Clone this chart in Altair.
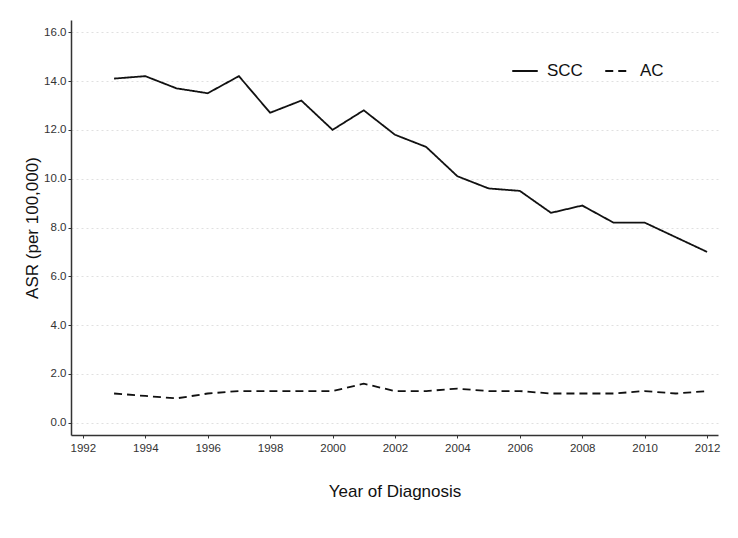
import altair as alt
import pandas as pd

years = list(range(1993, 2013))
scc = [14.1, 14.2, 13.7, 13.5, 14.2, 12.7, 13.2, 12.0, 12.8, 11.8,
       11.3, 10.1, 9.6, 9.5, 8.6, 8.9, 8.2, 8.2, 7.6, 7.0]
ac = [1.2, 1.1, 1.0, 1.2, 1.3, 1.3, 1.3, 1.3, 1.6, 1.3,
      1.3, 1.4, 1.3, 1.3, 1.2, 1.2, 1.2, 1.3, 1.2, 1.3]
series = ["SCC", "AC"]
x_ticks = list(range(1992, 2013, 2))
y_ticks = [0, 2, 4, 6, 8, 10, 12, 14, 16]

df = pd.DataFrame(
    {"year": years * 2,
     "asr": scc + ac,
     "type": ["SCC"] * len(years) + ["AC"] * len(years)}
)

font = "Liberation Sans"

chart = alt.Chart(df).mark_line(color="#111111", strokeWidth=1.8).encode(
    x=alt.X("year:Q",
            scale=alt.Scale(domain=[1991.62, 2012.35], nice=False, zero=False),
            axis=alt.Axis(values=x_ticks, format="d", title="Year of Diagnosis",
                          grid=False, titlePadding=30, labelPadding=4)),
    y=alt.Y("asr:Q",
            scale=alt.Scale(domain=[-0.5, 16.5], nice=False),
            axis=alt.Axis(values=y_ticks, format=".1f", title="ASR (per 100,000)",
                          grid=True, titlePadding=2)),
    strokeDash=alt.StrokeDash("type:N",
                              scale=alt.Scale(domain=series, range=[[1, 0], [8, 5]]),
                              legend=alt.Legend(title=None, orient="none",
                                                legendX=440, legendY=37,
                                                direction="horizontal",
                                                symbolType="stroke",
                                                symbolSize=650,
                                                symbolStrokeWidth=1.8,
                                                symbolStrokeColor="#111111",
                                                labelFontSize=17,
                                                labelFont=font,
                                                labelColor="#111111",
                                                columnPadding=18,
                                                labelOffset=8)),
).properties(
    width=647, height=415,
    autosize=alt.AutoSizeParams(type="none"),
    padding={"left": 63, "top": 12, "right": 12, "bottom": 90},
).configure_view(
    stroke=None
).configure_axis(
    labelFont=font, labelFontSize=11.5, labelColor="#333333",
    titleFont=font, titleFontSize=17, titleFontWeight="normal", titleColor="#111111",
    domainColor="#333333", domainWidth=1.5,
    tickColor="#333333", tickSize=3,
    gridColor="#e0e0e0", gridDash=[2, 3], gridWidth=1,
)

chart.save("out.html", embed_options={"renderer": "svg", "actions": False})
